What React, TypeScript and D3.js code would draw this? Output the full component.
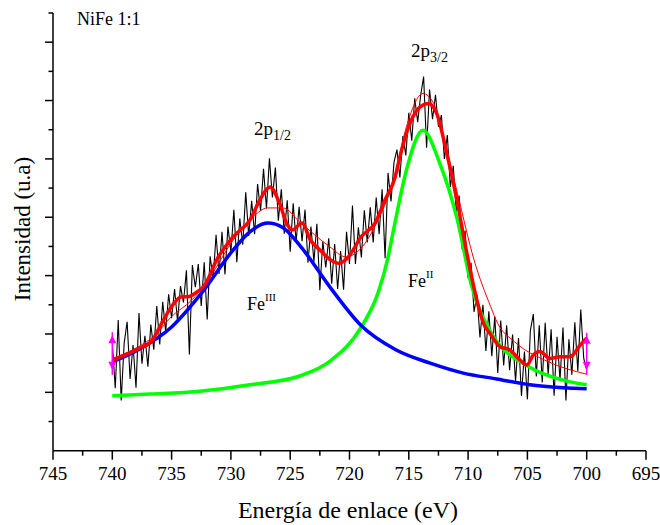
import React from 'react';
import * as d3 from 'd3';

// ---------- data ----------
const xTickValues = [745, 740, 735, 730, 725, 720, 715, 710, 705, 700, 695];
const xMinorValues = [742.5, 737.5, 732.5, 727.5, 722.5, 717.5, 712.5, 707.5, 702.5, 697.5];
const yMajorValues = [1, 2, 3, 4, 5, 6, 7];
const yMinorValues = [0.5, 1.5, 2.5, 3.5, 4.5, 5.5, 6.5, 7.5];

// raw spectrum, 740 -> 700 eV, 0.25 eV step
const rawStart = 740;
const rawStep = 0.25;
const rawIntensity = [
  1.85, 1.07, 2.24, 0.86, 1.84, 2.21, 1.23, 1.81, 1.08, 2.36, 1.49, 1.97, 1.44, 2.16, 1.73, 2.48,
  1.82, 2.55, 2.04, 2.68, 2.27, 2.77, 2.22, 2.82, 2.54, 3.09, 1.65, 3.18, 2.80, 3.2, 2.48, 3.23,
  2.25, 3.33, 2.94, 3.70, 3.03, 3.75, 3.02, 3.84, 3.41, 4.13, 3.23, 3.98, 3.53, 4.43, 3.68, 4.28,
  3.71, 4.57, 4.11, 4.83, 4.15, 5.01, 4.34, 4.85, 3.94, 4.48, 3.72, 4.29, 3.41, 4.24, 3.58, 4.18,
  3.59, 4.13, 3.22, 3.84, 3.24, 3.89, 2.75, 3.59, 3.14, 3.64, 2.86, 3.54, 2.77, 3.42, 2.76, 3.75,
  3.20, 4.2, 3.20, 3.83, 3.31, 4.12, 3.57, 4.17, 3.57, 4.34, 3.71, 4.48, 3.3, 4.76, 4.27, 4.94,
  5.16, 4.68, 5.39, 5.06, 5.79, 5.31, 6.04, 5.63, 6.09, 6.41, 5.19, 6.19, 5.68, 6.10, 5.55, 5.75,
  5.00, 5.41, 4.52, 4.88, 4.09, 4.37, 3.45, 3.77, 2.96, 3.22, 2.38, 2.67, 1.94, 2.50, 1.71, 2.39,
  1.62, 2.30, 1.33, 2.23, 1.46, 2.15, 1.38, 1.99, 1.19, 1.93, 0.94, 1.70, 0.88, 2.06, 2.34, 1.27,
  2.15, 1.17, 2.19, 1.30, 2.08, 0.94, 1.95, 1.21, 2.11, 0.86, 1.91, 1.30, 2.20, 1.36, 2.42, 1.58,
  1.38,
];

// smoothed spectrum (thick red)
const smoothEnergy = [740, 737.8, 736.7, 736.0, 735.0, 734.15, 733.6, 733.0, 732.2, 731.2, 729.8, 728.4, 727.55, 726.7, 725.9, 725.3, 724.85, 724.0, 723.3, 722.5, 721.6, 720.9, 720.1, 719.0, 717.85, 717.0, 716.15, 715.75, 714.9, 714.05, 713.35, 712.65, 711.8, 710.95, 710.1, 709.4, 708.7, 708.15, 707.3, 706.5, 705.6, 705.05, 704.5, 703.95, 703.1, 702.25, 701.4, 700.55, 700];
const smoothIntensity = [1.55, 1.75, 1.87, 2.12, 2.47, 2.64, 2.64, 2.70, 2.84, 3.27, 3.67, 3.95, 4.30, 4.52, 4.24, 3.90, 3.78, 3.90, 3.61, 3.44, 3.27, 3.21, 3.32, 3.67, 3.90, 4.30, 4.69, 5.04, 5.61, 5.89, 5.95, 5.78, 5.10, 4.30, 3.38, 2.70, 2.18, 2.01, 1.78, 1.73, 1.55, 1.47, 1.64, 1.70, 1.58, 1.61, 1.61, 1.81, 1.93];

// cumulative fit (thin red)
const fitEnergy = [740, 737.8, 736.4, 735.0, 733.3, 732.2, 729.8, 728.4, 726.9, 725.6, 724.2, 721.7, 720.3, 718.9, 717.6, 716.2, 715.2, 713.8, 712.9, 712.3, 710.9, 709.5, 708.1, 707.5, 706.1, 703.3, 700];
const fitIntensity = [1.58, 1.78, 1.98, 2.30, 2.58, 2.84, 3.61, 3.95, 4.16, 4.16, 3.92, 3.50, 3.32, 3.50, 3.95, 4.69, 5.55, 6.12, 5.95, 5.55, 4.41, 3.27, 2.47, 2.18, 1.87, 1.53, 1.31];

// Fe III component (blue)
const fe3Energy = [740, 737.8, 735.0, 732.6, 729.8, 728.4, 726.9, 725.6, 724.2, 721.6, 719.0, 716.1, 713.2, 710.4, 707.6, 704.8, 702.0, 700];
const fe3Intensity = [1.52, 1.73, 2.12, 2.67, 3.44, 3.75, 3.90, 3.82, 3.52, 2.79, 2.14, 1.73, 1.50, 1.33, 1.23, 1.13, 1.08, 1.06];

// Fe II component (green)
const fe2Energy = [740, 736.8, 732.6, 728.4, 724.2, 721.6, 719.0, 717.6, 716.8, 716.2, 715.2, 713.8, 712.4, 710.9, 709.7, 708.2, 704.8, 702.0, 700];
const fe2Intensity = [0.94, 0.97, 1.02, 1.13, 1.28, 1.54, 2.12, 2.70, 3.27, 3.87, 4.81, 5.49, 4.93, 3.95, 2.82, 2.07, 1.43, 1.21, 1.13];

// data-range markers (magenta)
const markerEnergy = [740, 700];
const markerHigh = [2.03, 2.02];
const markerLow = [1.30, 1.30];

// ---------- layout ----------
const W = 660;
const H = 525;
const X0 = 53;
const X1 = 646;
const Y0 = 450.7;
const Y1 = 13;
const FONT = "'Liberation Serif', 'Times New Roman', Times, serif";

export default function App() {
  const x = d3.scaleLinear().domain([745, 695]).range([X0, X1]);
  const y = d3.scaleLinear().domain([0, 7.5]).range([Y0, Y1]);

  const rawPts: [number, number][] = rawIntensity.map((v, i) => [rawStart - i * rawStep, v]);
  const zip = (a: number[], b: number[]) => a.map((e, i) => [e, b[i]] as [number, number]);

  const lineLin = d3.line<[number, number]>().x(d => x(d[0])).y(d => y(d[1]));
  const lineSmooth = d3
    .line<[number, number]>()
    .x(d => x(d[0]))
    .y(d => y(d[1]))
    .curve(d3.curveMonotoneX);

  return (
    <svg
      width={W}
      height={H}
      style={{ position: 'absolute', left: 0, top: 0, background: '#fff' }}
      fontFamily={FONT}
    >
      <rect x={0} y={0} width={W} height={H} fill="#fff" />
      {/* raw data */}
      <path d={lineLin(rawPts) || ''} fill="none" stroke="#000" strokeWidth={1.1} />
      {/* components */}
      <path d={lineSmooth(zip(fe2Energy, fe2Intensity)) || ''} fill="none" stroke="#00ff00" strokeWidth={3.5} />
      <path d={lineSmooth(zip(fe3Energy, fe3Intensity)) || ''} fill="none" stroke="#0000ff" strokeWidth={3.5} />
      <path d={lineSmooth(zip(fitEnergy, fitIntensity)) || ''} fill="none" stroke="#ff0000" strokeWidth={1} />
      <path d={lineSmooth(zip(smoothEnergy, smoothIntensity)) || ''} fill="none" stroke="#ff0000" strokeWidth={3.5} />

      {/* markers */}
      {markerEnergy.map((e, i) => {
        const cx = x(e);
        const top = y(markerHigh[i]);
        const bot = y(markerLow[i]);
        return (
          <g key={i} fill="#ff00ff" stroke="#ff00ff">
            <line x1={cx} x2={cx} y1={top} y2={bot} strokeWidth={1.5} />
            <path d={`M${cx},${top + 3} L${cx - 4},${top + 11} L${cx + 4},${top + 11} Z`} stroke="none" />
            <path d={`M${cx},${bot - 5} L${cx - 4},${bot - 13} L${cx + 4},${bot - 13} Z`} stroke="none" />
          </g>
        );
      })}

      {/* axes */}
      <g stroke="#000" strokeWidth={1.5}>
        <line x1={X0} x2={X1} y1={Y0} y2={Y0} />
        <line x1={X0} x2={X0} y1={Y0} y2={Y1} />
        {xTickValues.map(t => (
          <line key={'xm' + t} x1={x(t)} x2={x(t)} y1={Y0} y2={Y0 + 9} />
        ))}
        {xMinorValues.map(t => (
          <line key={'xn' + t} x1={x(t)} x2={x(t)} y1={Y0} y2={Y0 + 5} />
        ))}
        {yMajorValues.map(t => (
          <line key={'ym' + t} x1={X0} x2={X0 - 8} y1={y(t)} y2={y(t)} />
        ))}
        {yMinorValues.map(t => (
          <line key={'yn' + t} x1={X0} x2={X0 - 4.5} y1={y(t)} y2={y(t)} />
        ))}
      </g>
      <g fontSize={19} fill="#000" textAnchor="middle">
        {xTickValues.map(t => (
          <text key={'xl' + t} x={x(t)} y={480}>
            {t}
          </text>
        ))}
      </g>
      <text x={348} y={518} fontSize={24} textAnchor="middle" fill="#000">
        Energía de enlace (eV)
      </text>
      <text transform="translate(30,229) rotate(-90)" fontSize={23} textAnchor="middle" fill="#000">
        Intensidad (u.a)
      </text>

      {/* annotations */}
      <text x={77} y={25} fontSize={18} fill="#000">
        NiFe 1:1
      </text>
      <text x={254} y={135} fontSize={19} fill="#000">
        2p
        <tspan fontSize={14} dy={5}>
          1/2
        </tspan>
      </text>
      <text x={411} y={57} fontSize={19} fill="#000">
        2p
        <tspan fontSize={14} dy={5}>
          3/2
        </tspan>
      </text>
      <text x={247} y={310} fontSize={18} fill="#000">
        Fe
        <tspan fontSize={11} dy={-9}>
          III
        </tspan>
      </text>
      <text x={408} y={287} fontSize={18} fill="#000">
        Fe
        <tspan fontSize={11} dy={-9}>
          II
        </tspan>
      </text>
    </svg>
  );
}
